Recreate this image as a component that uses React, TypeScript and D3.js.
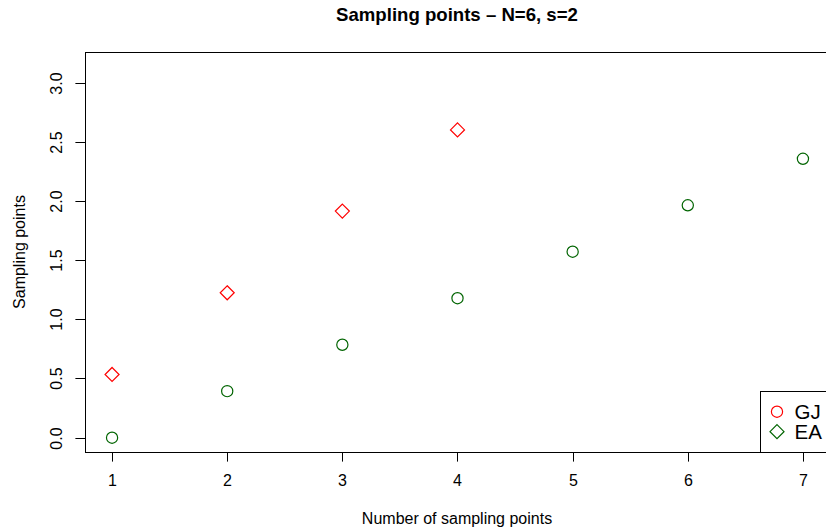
import { useEffect, useRef } from 'react'
import * as d3 from 'd3'

const TITLE = 'Sampling points \u2013 N=6, s=2'
const X_LABEL = 'Number of sampling points'
const Y_LABEL = 'Sampling points'

const X_TICKS = [1, 2, 3, 4, 5, 6, 7]
const Y_TICKS = [0, 0.5, 1, 1.5, 2, 2.5, 3]

// red diamonds
const GJ_X = [1, 2, 3, 4]
const GJ_Y = [0.534, 1.224, 1.914, 2.6]
// green circles
const EA_X = [1, 2, 3, 4, 5, 6, 7]
const EA_Y = [0, 0.393, 0.785, 1.178, 1.571, 1.963, 2.356]

const LEGEND = [
  { label: 'GJ', color: '#ff0000', shape: 'circle' },
  { label: 'EA', color: '#006400', shape: 'diamond' },
]

const FONT = 'Liberation Sans, Arial, Helvetica, sans-serif'

export default function App() {
  const svgRef = useRef<SVGSVGElement>(null)

  useEffect(() => {
    const el = svgRef.current
    if (!el) return
    const w = 826
    const h = 532
    const left = 85
    const top = 52
    const bottom = 452
    const right = 830 // plot box runs past the window edge
    const tick = 9.6

    const x = d3.scaleLinear().domain([0.765, 7.235]).range([left, right])
    const y = d3.scaleLinear().domain([-0.121, 3.258]).range([bottom, top])

    const svg = d3.select(el)
    svg.selectAll('*').remove()
    svg.attr('width', w).attr('height', h)

    svg.append('rect').attr('width', w).attr('height', h).attr('fill', '#fff')

    // title
    svg
      .append('text')
      .attr('x', 457)
      .attr('y', 20.5)
      .attr('text-anchor', 'middle')
      .attr('font-family', FONT)
      .attr('font-weight', 'bold')
      .attr('font-size', 18.6)
      .text(TITLE)

    // plot box
    svg
      .append('rect')
      .attr('x', left + 0.5)
      .attr('y', top + 0.5)
      .attr('width', right - left)
      .attr('height', bottom - top)
      .attr('fill', 'none')
      .attr('stroke', '#000')

    // x axis
    const xa = svg.append('g')
    X_TICKS.forEach((t) => {
      const px = Math.round(x(t)) + 0.5
      xa.append('line')
        .attr('x1', px).attr('x2', px)
        .attr('y1', bottom).attr('y2', bottom + tick)
        .attr('stroke', '#000')
      xa.append('text')
        .attr('x', px)
        .attr('y', 486)
        .attr('text-anchor', 'middle')
        .attr('font-family', FONT)
        .attr('font-size', 16)
        .text(String(t))
    })

    // y axis
    const ya = svg.append('g')
    Y_TICKS.forEach((t) => {
      const py = Math.round(y(t)) + 0.5
      ya.append('line')
        .attr('x1', left - tick).attr('x2', left)
        .attr('y1', py).attr('y2', py)
        .attr('stroke', '#000')
      ya.append('text')
        .attr('transform', `translate(62,${py}) rotate(-90)`)
        .attr('text-anchor', 'middle')
        .attr('font-family', FONT)
        .attr('font-size', 16)
        .text(t.toFixed(1))
    })

    // axis titles
    svg
      .append('text')
      .attr('x', 457)
      .attr('y', 524)
      .attr('text-anchor', 'middle')
      .attr('font-family', FONT)
      .attr('font-size', 16)
      .text(X_LABEL)
    svg
      .append('text')
      .attr('transform', `translate(24.5,${(top + bottom) / 2}) rotate(-90)`)
      .attr('text-anchor', 'middle')
      .attr('font-family', FONT)
      .attr('font-size', 16)
      .text(Y_LABEL)

    const diamond = (cx: number, cy: number, r: number) =>
      `M${cx},${cy - r}L${cx + r},${cy}L${cx},${cy + r}L${cx - r},${cy}Z`

    // points
    svg
      .append('g')
      .selectAll('path')
      .data(GJ_X.map((v, i) => [v, GJ_Y[i]]))
      .join('path')
      .attr('d', (d) => diamond(x(d[0]), y(d[1]), 7))
      .attr('fill', 'none')
      .attr('stroke', '#ff0000')
      .attr('stroke-width', 1.2)

    svg
      .append('g')
      .selectAll('circle')
      .data(EA_X.map((v, i) => [v, EA_Y[i]]))
      .join('circle')
      .attr('cx', (d) => x(d[0]))
      .attr('cy', (d) => y(d[1]))
      .attr('r', 5.6)
      .attr('fill', 'none')
      .attr('stroke', '#006400')
      .attr('stroke-width', 1.2)

    // legend
    const lg = svg.append('g')
    lg.append('rect')
      .attr('x', 760.5)
      .attr('y', 391.5)
      .attr('width', 80)
      .attr('height', bottom - 391)
      .attr('fill', '#fff')
      .attr('stroke', '#000')
    LEGEND.forEach((d, i) => {
      const cy = 411.7 + i * 20
      if (d.shape === 'circle') {
        lg.append('circle')
          .attr('cx', 777).attr('cy', cy).attr('r', 5.6)
          .attr('fill', 'none').attr('stroke', d.color).attr('stroke-width', 1.2)
      } else {
        lg.append('path')
          .attr('d', diamond(777, cy, 7))
          .attr('fill', 'none').attr('stroke', d.color).attr('stroke-width', 1.2)
      }
      lg.append('text')
        .attr('x', 794.5)
        .attr('y', cy + 7.2)
        .attr('font-family', FONT)
        .attr('font-size', 20.5)
        .text(d.label)
    })
  }, [])

  return <svg ref={svgRef} style={{ display: 'block', position: 'absolute', left: 0, top: 0 }} />
}
